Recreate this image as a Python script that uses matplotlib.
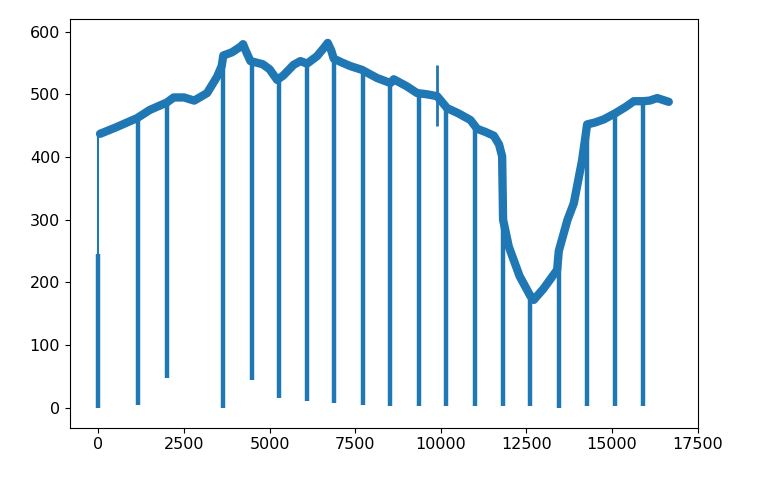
import numpy as np
from matplotlib import pyplot as plt

# slow trend of the signal (sample index, value)
trend_x = [50, 500, 1130, 1500, 2000, 2200, 2500, 2800, 3175, 3466, 3600, 3650,
           3900, 4150, 4225, 4300, 4440, 4800, 5000, 5220, 5400, 5700, 5900,
           6095, 6387, 6600, 6698, 6800, 6873, 7100, 7360, 7700, 7900, 8140,
           8528, 8625, 9000, 9307, 9600, 9892, 10183, 10500, 10864, 11060,
           11300, 11546, 11700, 11790, 11818, 11984, 12300, 12617, 12714,
           13000, 13397, 13444, 13700, 13882, 14126, 14272, 14500, 14758,
           15100, 15400, 15634, 15908, 16100, 16317, 16656]
trend_y = [437, 447, 462, 475, 487, 495, 495, 490, 502, 528, 545, 562,
           567, 576, 580, 570, 553, 548, 540, 523, 530, 547, 553,
           549, 561, 575, 582, 570, 557, 551, 545, 539, 533, 526,
           518, 524, 513, 502, 500, 497, 478, 470, 459, 445,
           440, 434, 420, 401, 300, 257, 210, 178, 172,
           190, 220, 250, 300, 326, 395, 452, 455, 460,
           470, 480, 489, 489, 490, 494, 488]

# drop-outs down towards zero
dip_x = [0, 1150, 2000, 3640, 4477, 5266, 6095, 6873, 7730, 8528, 9356,
         10164, 11010, 11818, 12617, 13444, 14272, 15100, 15907]
dip_low = [0, 5, 48, 0, 45, 16, 10, 8, 5, 3, 3, 2, 3, 3, 3, 0, 3, 3, 3]
dip_top = [245, 462, 487, 560, 552, 525, 549, 557, 538, 518, 502, 478, 455,
           401, 178, 250, 452, 470, 489]

# start-up jump and one single spike
jump_x, jump_low, jump_top = 0, 245, 440
spike_x, spike_low, spike_top = 9892, 449, 547

color = '#1f77b4'
fig = plt.figure(figsize=(7.6, 4.9), dpi=100)
ax = fig.add_axes([0.092, 0.127, 0.826, 0.834])

ax.plot(trend_x, trend_y, color=color, lw=6, solid_capstyle='round')
ax.vlines(dip_x, dip_low, dip_top, color=color, lw=3.2)
ax.vlines([jump_x], [jump_low], [jump_top], color=color, lw=1.5)
ax.vlines([spike_x], [spike_low], [spike_top], color=color, lw=2)

ax.set_xlim(-830, 17500)
ax.set_ylim(-32, 620)
ax.set_xticks(np.arange(0, 17501, 2500))
ax.set_yticks(np.arange(0, 601, 100))
ax.tick_params(labelsize=11.5)

plt.savefig("out.png")
